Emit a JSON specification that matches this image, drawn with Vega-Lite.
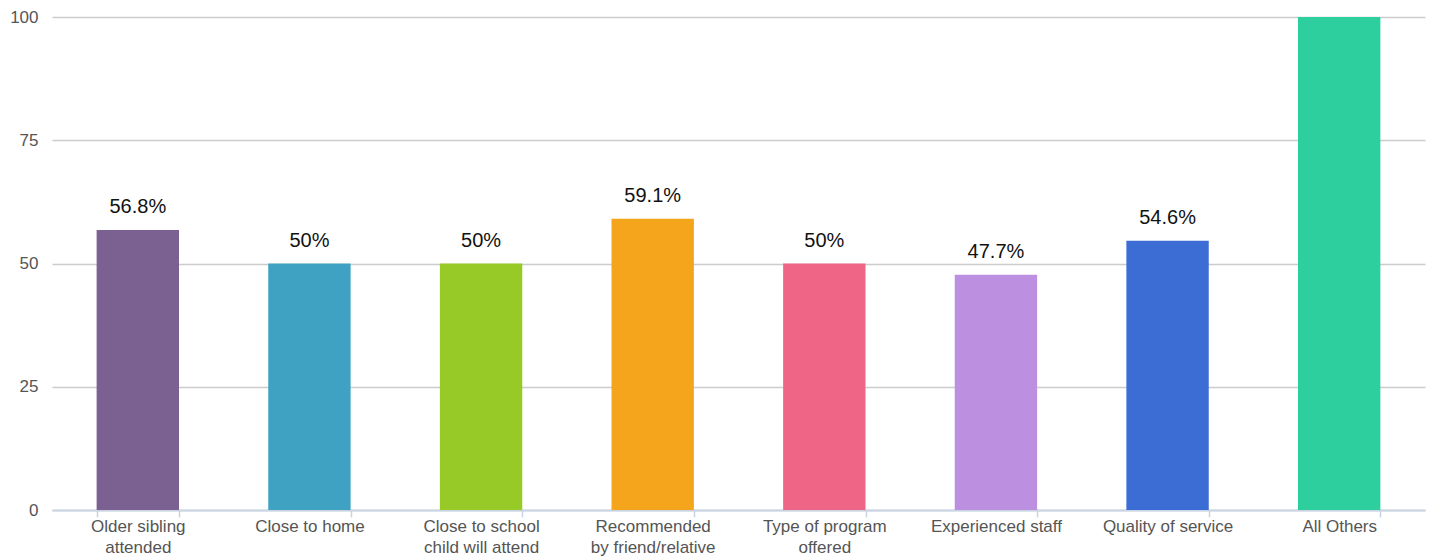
{
  "$schema": "https://vega.github.io/schema/vega-lite/v6.json",
  "width": 1373,
  "height": 493,
  "autosize": {"type": "none"},
  "padding": {"left": 52, "top": 17, "right": 8, "bottom": 48},
  "config": {
    "font": "Liberation Sans",
    "view": {"stroke": null}
  },
  "data": {
    "values": [
      {"category": "Older sibling attended", "value": 56.8},
      {"category": "Close to home", "value": 50},
      {"category": "Close to school child will attend", "value": 50},
      {"category": "Recommended by friend/relative", "value": 59.1},
      {"category": "Type of program offered", "value": 50},
      {"category": "Experienced staff", "value": 47.7},
      {"category": "Quality of service", "value": 54.6},
      {"category": "All Others", "value": 100}
    ]
  },
  "encoding": {
    "x": {
      "field": "category",
      "type": "nominal",
      "sort": null,
      "scale": {"paddingInner": 0.52, "paddingOuter": 0.26},
      "axis": {
        "title": null,
        "labelAngle": 0,
        "labelFontSize": 17,
        "labelColor": "#555555",
        "labelPadding": 1,
        "labelLineHeight": 21,
        "labelBaseline": "top",
        "labelLimit": 300,
        "tickBand": "extent",
        "tickColor": "#c8d4e3",
        "tickSize": 7,
        "tickWidth": 1.5,
        "domainColor": "#c8d4e3",
        "domainWidth": 2,
        "labelExpr": "datum.label == 'Older sibling attended' ? ['Older sibling', 'attended'] : datum.label == 'Close to school child will attend' ? ['Close to school', 'child will attend'] : datum.label == 'Recommended by friend/relative' ? ['Recommended', 'by friend/relative'] : datum.label == 'Type of program offered' ? ['Type of program', 'offered'] : datum.label"
      }
    },
    "y": {
      "field": "value",
      "type": "quantitative",
      "scale": {"domain": [0, 100], "nice": false},
      "axis": {
        "title": null,
        "values": [0, 25, 50, 75, 100],
        "domain": false,
        "ticks": false,
        "labelFontSize": 17,
        "labelColor": "#555555",
        "labelPadding": 14,
        "gridColor": "#cccccc",
        "gridWidth": 1.5
      }
    }
  },
  "layer": [
    {
      "mark": {"type": "bar", "clip": false},
      "encoding": {
        "color": {
          "field": "category",
          "type": "nominal",
          "sort": null,
          "legend": null,
          "scale": {
            "domain": ["Older sibling attended", "Close to home", "Close to school child will attend", "Recommended by friend/relative", "Type of program offered", "Experienced staff", "Quality of service", "All Others"],
            "range": ["#7b6092", "#3fa2c2", "#97c927", "#f4a51b", "#ef6586", "#bc8fe1", "#3b6dd4", "#2ecf9e"]
          }
        }
      }
    },
    {
      "transform": [
        {"filter": "datum.category != 'All Others'"},
        {"calculate": "format(datum.value, '.3~r') + '%'", "as": "label"}
      ],
      "mark": {"type": "text", "fontSize": 20, "color": "#111111", "baseline": "alphabetic", "dy": -17},
      "encoding": {"text": {"field": "label"}}
    }
  ]
}
